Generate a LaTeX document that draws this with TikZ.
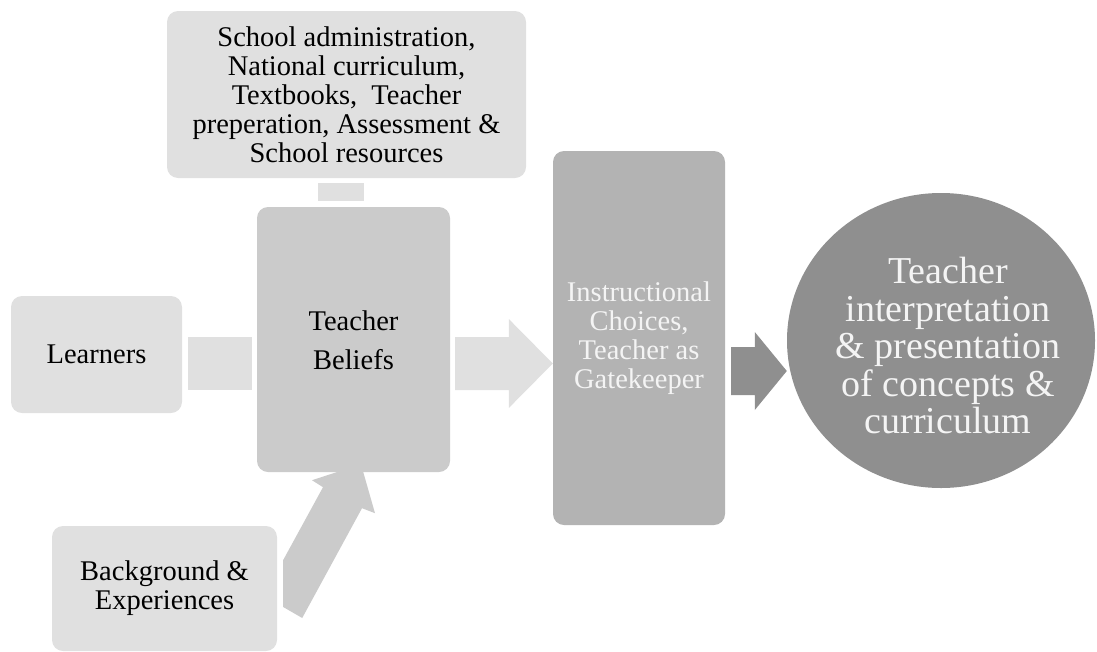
\documentclass[tikz,border=0pt]{standalone}
\usepackage{fontspec}
\setmainfont{Liberation Serif}
\usetikzlibrary{shapes.geometric,calc}
\pgfdeclarelayer{back}
\pgfsetlayers{back,main}
\definecolor{paleg}{HTML}{E0E0E0}
\definecolor{midg}{HTML}{CBCBCB}
\definecolor{deepg}{HTML}{B3B3B3}
\definecolor{darkg}{HTML}{8F8F8F}
\definecolor{lighttxt}{HTML}{F4F4F4}
\begin{document}
\begin{tikzpicture}[x=1pt,y=-1pt,
  card/.style={rectangle, rounded corners=11pt, inner sep=0pt, align=center,
    text=black, font=\fontsize{28.5}{29}\selectfont},
  bigtxt/.style={font=\fontsize{38}{37.5}\selectfont},
  lightarrow/.style={fill=paleg},
  midarrow/.style={fill=midg},
  darkarrow/.style={fill=darkg}
]
\useasboundingbox (0,0) rectangle (1097,651);

% boxes
\node[card, fill=paleg, minimum width=359, minimum height=167] (ctx) at (346.5,94.5)
  {School administration,\\National curriculum,\\Textbooks,\ \ Teacher\\preperation, Assessment \&\\School resources};
\node[card, fill=paleg, minimum width=171, minimum height=117] (lrn) at (96.5,354.5) {Learners};
\node[card, fill=midg, minimum width=193, minimum height=265] (blf) at (353.5,339.5) {};
\node[align=center, inner sep=0pt, font=\fontsize{28.5}{39}\selectfont] (blft) at ($(blf.center)+(0,1)$)
  {Teacher\\Beliefs};
\node[card, fill=deepg, text=lighttxt, minimum width=172, minimum height=374] (ins) at (639,338)
  {Instructional\\Choices,\\Teacher as\\Gatekeeper};
\node[ellipse, fill=darkg, minimum width=308, minimum height=295, inner sep=0pt] (out) at (941,340.5) {};
\node[align=center, inner sep=0pt, text=lighttxt, bigtxt] (outt) at ($(out.center)+(7,5)$)
  {Teacher\\interpretation\\\& presentation\\of concepts \&\\curriculum};
\node[card, fill=paleg, minimum width=225, minimum height=125] (bg) at (164.5,588.5)
  {Background \&\\Experiences};

% connectors
\begin{pgfonlayer}{back}
  % context -> beliefs
  \fill[lightarrow] ($(ctx.south)+(-28.5,5)$) rectangle ($(blf.north)+(10.5,-6)$);
  % learners -> beliefs
  \fill[lightarrow] ($(lrn.east)+(6,-17.5)$) rectangle ($(blf.west)+(-5,50.5)$);
  % beliefs -> instructional choices
  \coordinate (t1) at ($(ins.west)+(0,25.5)$);
  \fill[lightarrow] ($(blf.east)+(5,-2.5)$) -- ($(t1)+(-44,-26.5)$) -- ($(t1)+(-44,-44.5)$)
    -- (t1) -- ($(t1)+(-44,44.5)$) -- ($(t1)+(-44,26.5)$) -- ($(blf.east)+(5,50.5)$) -- cycle;
  % instructional choices -> outcome
  \coordinate (t2) at ($(out.west)+(0,30.5)$);
  \fill[darkarrow] ($(ins.east)+(6,9)$) -- ($(t2)+(-32,-24)$) -- ($(t2)+(-32,-39)$)
    -- (t2) -- ($(t2)+(-32,39)$) -- ($(t2)+(-32,24)$) -- ($(ins.east)+(6,57)$) -- cycle;
  % background -> beliefs
  \coordinate (t3) at ($(blf.south)+(7.5,-8)$);
  \fill[midarrow] ($(bg.east)+(6,-28.5)$) -- ($(bg.east)+(6,18.5)$) -- ($(bg.east)+(25,29.5)$)
    -- ($(t3)+(1,44)$) -- ($(t3)+(14,49)$) -- (t3) -- ($(t3)+(-49,16)$) -- ($(t3)+(-38,23)$) -- cycle;
\end{pgfonlayer}
\end{tikzpicture}
\end{document}
